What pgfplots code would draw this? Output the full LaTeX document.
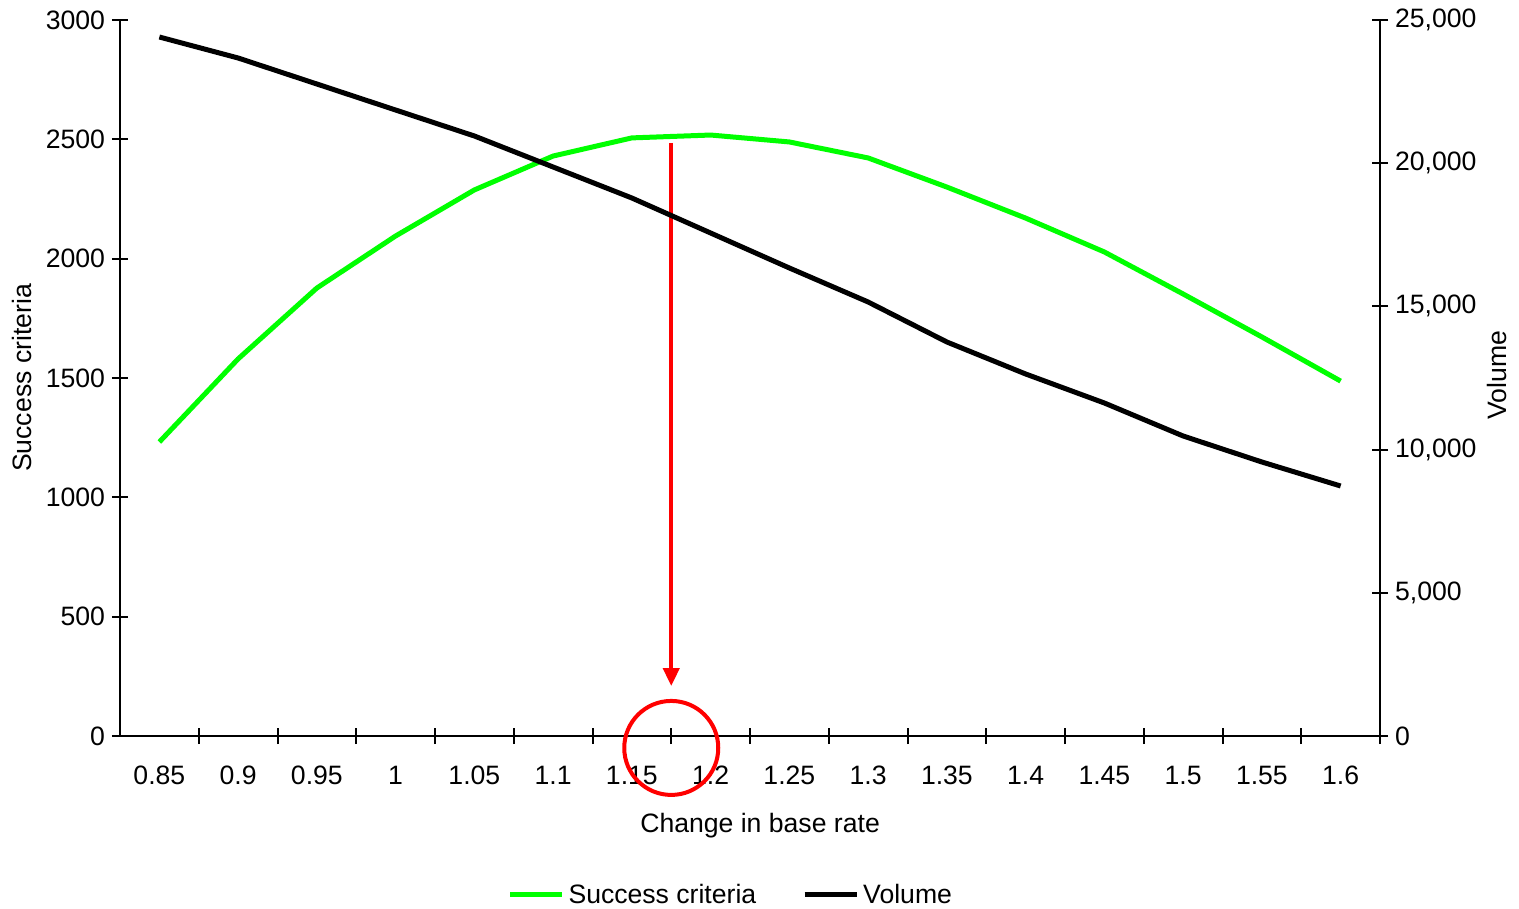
\documentclass[border=0pt]{standalone}
\usepackage{pgfplots}
\pgfplotsset{compat=1.18}
\usetikzlibrary{arrows.meta}
\usepackage{fontspec}
\setmainfont{Liberation Sans}
\definecolor{lgreen}{RGB}{0,255,0}
\begin{document}
\begin{tikzpicture}
\useasboundingbox (-60pt,-86.5pt) rectangle (699.5pt,368pt);
\pgfplotsset{
  base/.style={
    at={(0,0)}, anchor=south west,
    scale only axis, width=630pt, height=358pt,
    xmin=-0.5, xmax=15.5,
    font=\fontsize{13.3}{16}\selectfont,
    axis line style={line width=1pt},
    tick style={line width=1pt, black},
    tick align=center, major tick length=8pt,
    /pgf/number format/assume math mode=true,
    clip=false,
  }
}
\begin{axis}[base,
  ymin=0, ymax=3000,
  axis x line*=bottom, axis y line*=left,
  ytick={0,500,...,3000},
  yticklabel style={/pgf/number format/1000 sep={}},
  xtick={0.5,1.5,2.5,3.5,4.5,5.5,6.5,7.5,8.5,9.5,10.5,11.5,12.5,13.5,14.5,15.5},
  xticklabels={0.85,0.9,0.95,1,1.05,1.1,1.15,1.2,1.25,1.3,1.35,1.4,1.45,1.5,1.55,1.6},
  xticklabel style={xshift=-19.6875pt, yshift=-7.5pt},
  xlabel={Change in base rate},
  xlabel style={at={(axis description cs:0.508,-0.1255)}, anchor=center},
  ylabel={Success criteria},
  ylabel style={at={(axis description cs:-0.0778,0.5)}, anchor=center},
]
\addplot[lgreen, line width=2.5pt] coordinates {
(0,1232) (1,1580) (2,1877) (3,2095) (4,2288) (5,2430) (6,2506) (7,2518)
(8,2489) (9,2422) (10,2300) (11,2170) (12,2028) (13,1852) (14,1672) (15,1487)};
\draw[red, line width=2pt, -{Triangle[length=9pt,width=8pt]}] (axis cs:6.5,2485) -- (axis cs:6.5,209);
\draw[red, line width=2pt] (axis cs:6.5,-50) circle[radius=23.5pt];
\end{axis}
\begin{axis}[base,
  ymin=0, ymax=25000,
  axis y line*=right, axis x line=none,
  ytick={0,5000,...,25000},
  scaled y ticks=false,
  yticklabel style={/pgf/number format/fixed, /pgf/number format/1000 sep={,}},
  ylabel={Volume},
  ylabel style={at={(axis description cs:1.093,0.504)}, anchor=center},
  legend style={at={(0.4855,-0.222)}, anchor=center, draw=none, fill=none,
    legend columns=2, font=\fontsize{13.3}{16}\selectfont,
    /tikz/every even column/.append style={column sep=21pt}},
  legend image code/.code={\draw[#1] (0pt,0pt) -- (26pt,0pt);},
]
\addlegendimage{lgreen, line width=2.5pt}
\addlegendentry{Success criteria}
\addplot[black, line width=2.5pt] coordinates {
(0,24406) (1,23673) (2,22765) (3,21857) (4,20950) (5,19867) (6,18785) (7,17563)
(8,16341) (9,15154) (10,13757) (11,12640) (12,11627) (13,10475) (14,9567) (15,8729)};
\addlegendentry{Volume}
\end{axis}
\end{tikzpicture}
\end{document}
